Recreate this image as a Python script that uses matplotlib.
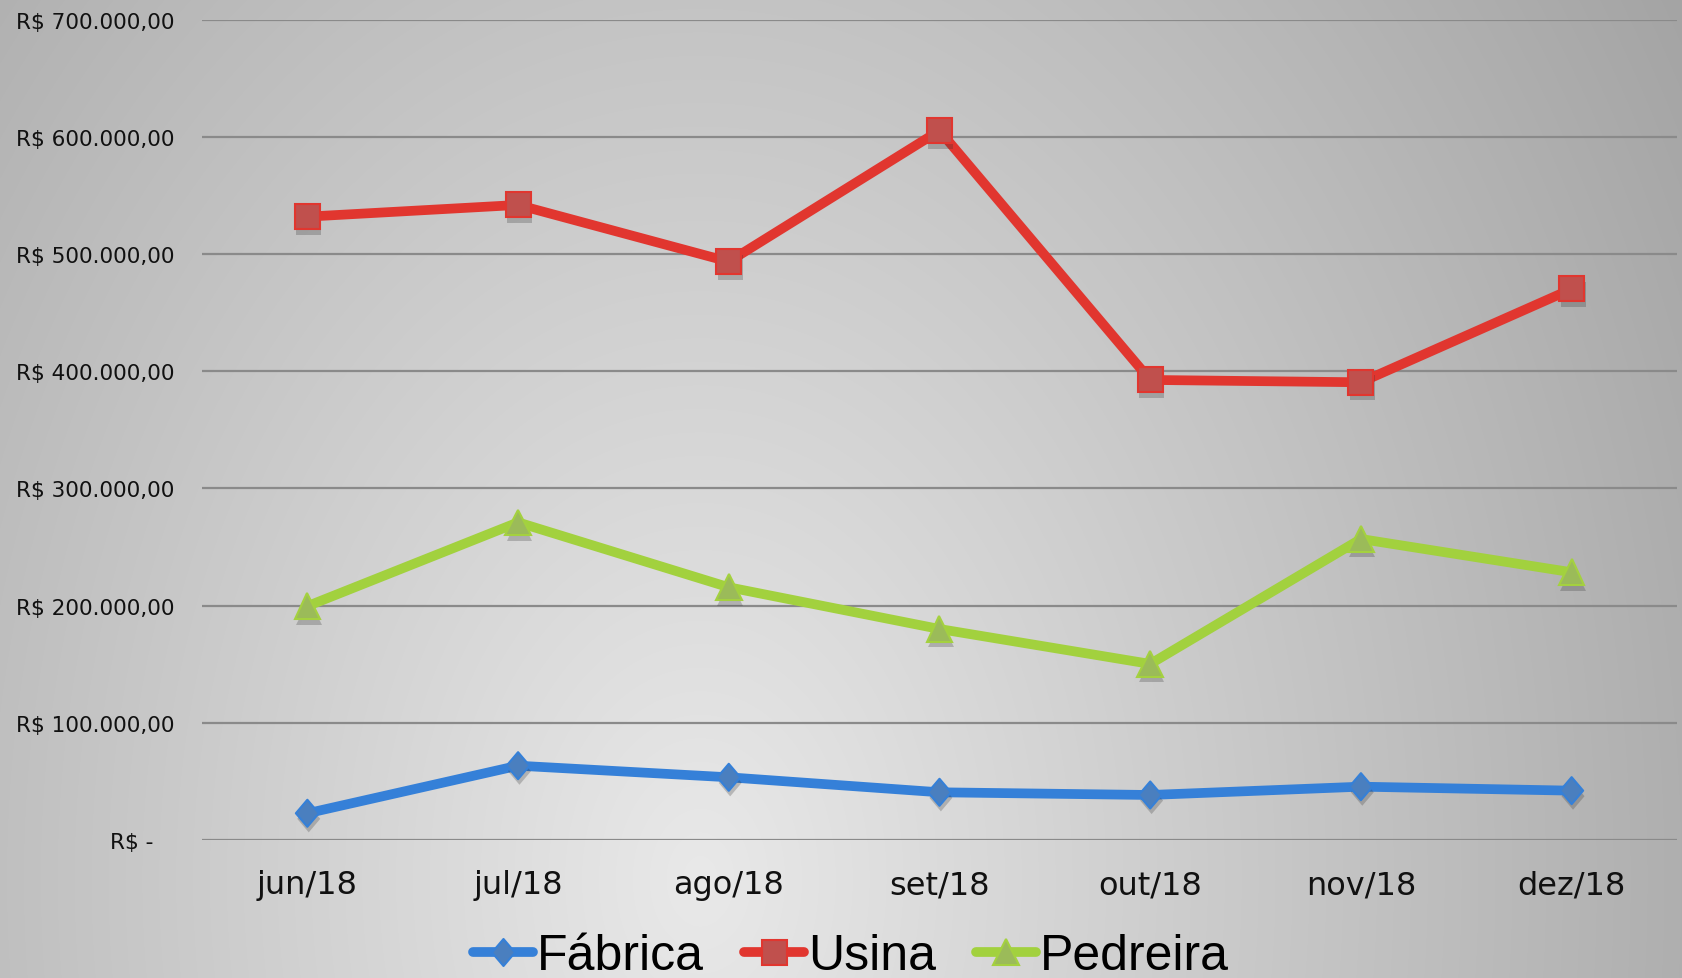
import numpy as np
import matplotlib
matplotlib.use("Agg")
import matplotlib.pyplot as plt
from matplotlib.path import Path
from matplotlib.ticker import FuncFormatter, MultipleLocator
import matplotlib.patheffects as pe

# ---- data ----
categories = ['jun/18', 'jul/18', 'ago/18', 'set/18', 'out/18', 'nov/18', 'dez/18']
fabrica = [22800, 63400, 53500, 40700, 38400, 45500, 42100]
usina = [531800, 541800, 493400, 605200, 392500, 390500, 470100]
pedreira = [199500, 271000, 215600, 180000, 150200, 256800, 228400]
series_names = ['Fábrica', 'Usina', 'Pedreira']

W, H = 1683, 979
fig = plt.figure(figsize=(W / 100, H / 100), dpi=100)

# ---- radial gradient background ----
bg = fig.add_axes([0, 0, 1, 1], zorder=-10)
yy, xx = np.mgrid[0:H, 0:W]
cx, cy, rx, ry = 700, 880, 1150, 1600
t = np.sqrt(((xx - cx) / rx) ** 2 + ((yy - cy) / ry) ** 2)
t = np.clip(t, 0, 1.1)
val = (233 - 68 * t) / 255.0
img = np.dstack([val, val, val])
bg.imshow(img, aspect='auto', interpolation='bilinear')
bg.axis('off')

# ---- main axes ----
ax = fig.add_axes([202 / W, 1 - 841 / H, (1677 - 202) / W, (841 - 20.5) / H])
ax.set_facecolor('none')
x = np.arange(len(categories))

diamond = Path([(0, 1), (0.85, 0), (0, -1), (-0.85, 0), (0, 1)],
               [Path.MOVETO, Path.LINETO, Path.LINETO, Path.LINETO, Path.CLOSEPOLY])

styles = [
    dict(color='#3580d8', marker=diamond, ms=19.5, mfc='#4a7fbf', mec='#3580d8'),
    dict(color='#e1362f', marker='s', ms=18, mfc='#c0504d', mec='#e1362f'),
    dict(color='#a2d13e', marker='^', ms=18.5, mfc='#9bbb59', mec='#a4d13f'),
]

shadow = [pe.SimplePatchShadow(offset=(1, -4), shadow_rgbFace='#303030', alpha=0.25), pe.Normal()]
handles = []
for i, (vals, st) in enumerate(zip([fabrica, usina, pedreira], styles)):
    ax.plot(x, vals, color=st['color'], lw=7, solid_joinstyle='miter',
            solid_capstyle='butt', zorder=3 + 2 * i)
    ax.plot(x, vals, ls='none', marker=st['marker'], ms=st['ms'], mfc=st['mfc'],
            mec=st['mec'], mew=1.5, zorder=4 + 2 * i, path_effects=shadow)
    h, = ax.plot([], [], color=st['color'], lw=7, marker=st['marker'], ms=st['ms'],
                 mfc=st['mfc'], mec=st['mec'], mew=1.5, solid_capstyle='round')
    handles.append(h)

ax.set_xlim(-0.5, len(categories) - 0.5)
ax.set_ylim(0, 700000)
ax.yaxis.set_major_locator(MultipleLocator(100000))


def fmt(v, pos):
    if abs(v) < 1:
        return 'R$ -   '
    s = f"{v:,.2f}".replace(',', '#').replace('.', ',').replace('#', '.')
    return 'R$ ' + s


ax.yaxis.set_major_formatter(FuncFormatter(fmt))
ax.set_xticks(x)
ax.set_xticklabels(categories)
ax.grid(axis='y', color='#8a8a8a', lw=1.6)
ax.set_axisbelow(True)
for sp in ax.spines.values():
    sp.set_visible(False)
ax.tick_params(axis='y', length=0, pad=20, labelsize=15.6, labelcolor='#111111')
ax.tick_params(axis='x', length=0, pad=21, labelsize=23, labelcolor='#111111')
for lab in ax.get_yticklabels() + ax.get_xticklabels():
    lab.set_fontfamily('DejaVu Sans')

leg = fig.legend(handles, series_names, loc='center', bbox_to_anchor=(851 / W, 1 - 957 / H),
                 ncol=3, frameon=False, handlelength=1.2, handletextpad=0.08,
                 columnspacing=0.8, borderpad=0, numpoints=1,
                 prop=dict(family='Liberation Sans', size=36))

fig.savefig('out.png', dpi=100)
